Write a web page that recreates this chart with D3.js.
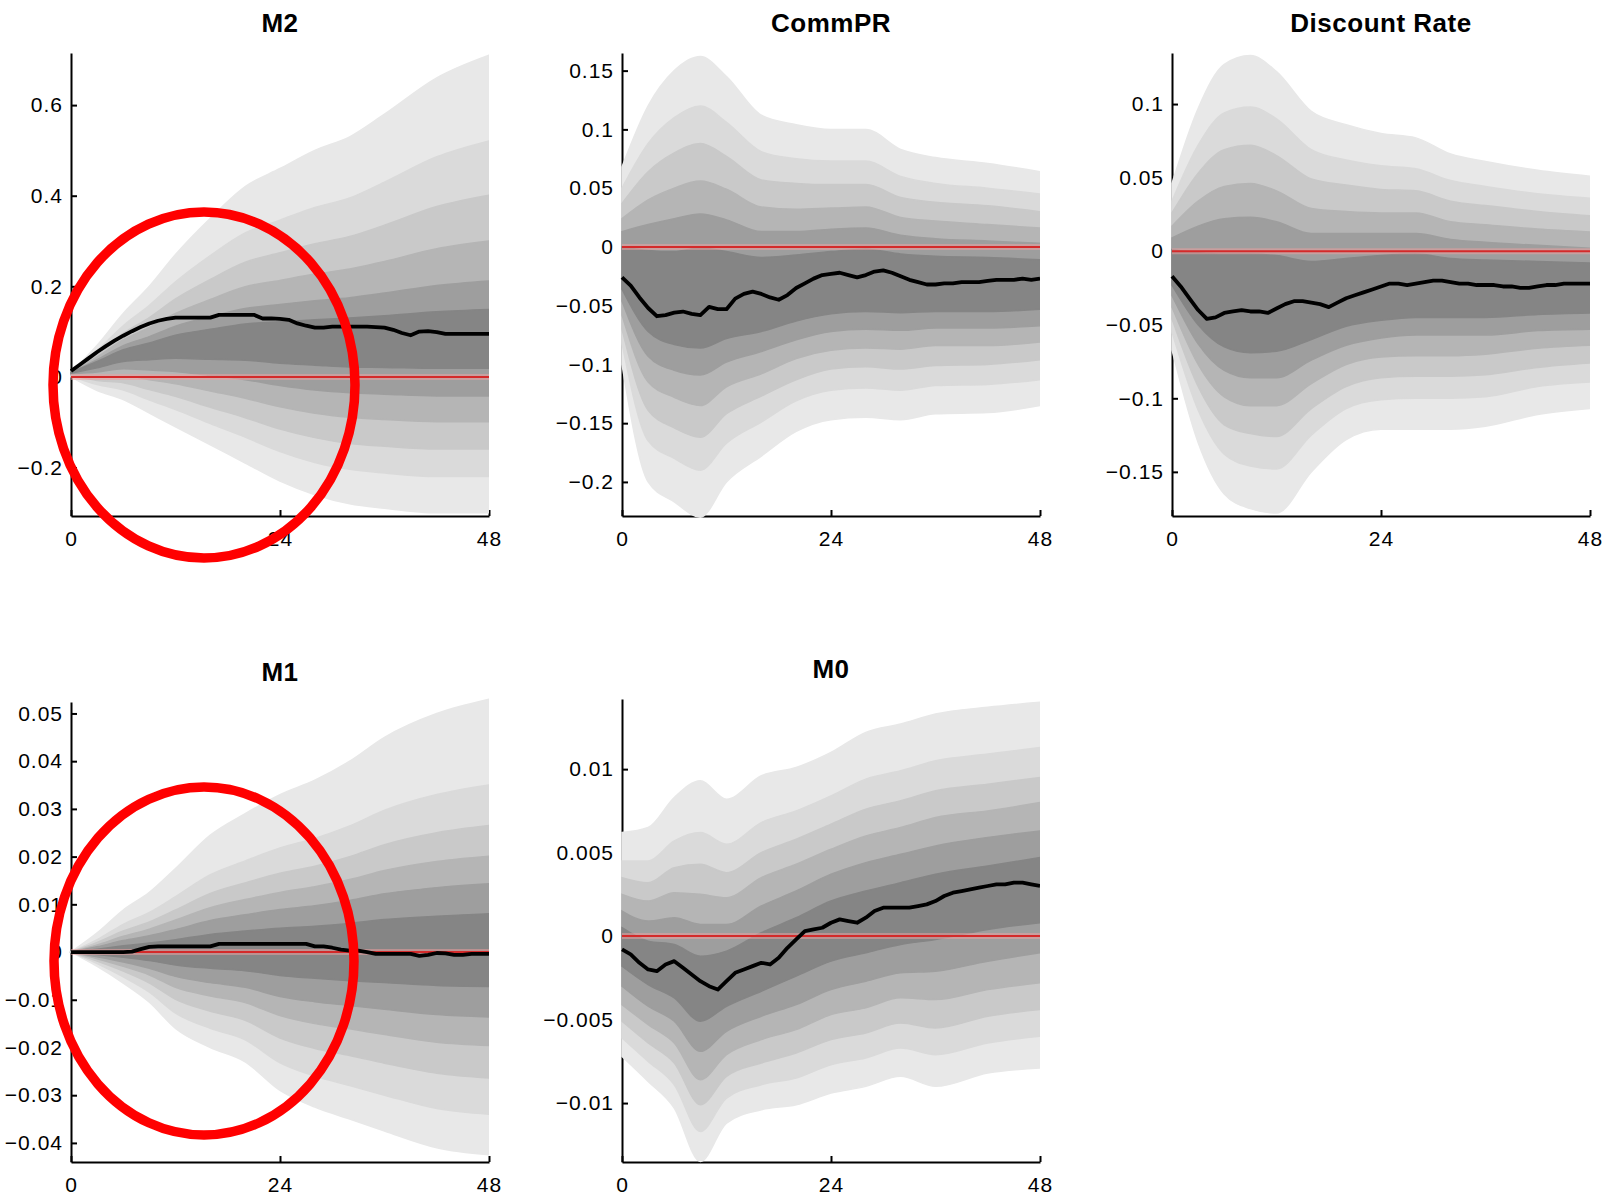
<!DOCTYPE html>
<html>
<head>
<meta charset="utf-8">
<script src="https://cdn.jsdelivr.net/npm/d3@7"></script>
<style>
  body { margin: 0; background: #fff; }
  text { font-family: "Liberation Sans", Arial, sans-serif; }
</style>
</head>
<body>
<svg id="chart" width="1612" height="1197"></svg>
<script>
// horizons (months)
const months = d3.range(0, 49);
const bandMonths = [0, 3, 6, 9, 12, 16, 20, 24, 28, 32, 36, 42, 48];
const xTicks = [0, 24, 48];

// ---- M2 ----
const m2Ticks = [-0.2, 0, 0.2, 0.4, 0.6];
const m2Median = [0.013,0.027,0.041,0.055,0.068,0.080,0.091,0.101,0.110,0.118,0.124,0.128,0.131,0.131,0.131,0.131,0.131,
  0.137,0.137,0.137,0.137,0.137,0.129,0.129,0.128,0.126,0.118,0.113,0.109,0.109,0.111,0.111,0.111,0.111,0.111,0.110,
  0.109,0.104,0.097,0.092,0.100,0.101,0.099,0.095,0.095,0.095,0.095,0.095,0.095];
const m2Upper = [
  [0.01,0.07,0.14,0.20,0.27,0.35,0.42,0.46,0.50,0.53,0.58,0.66,0.71],
  [0.01,0.058,0.113,0.158,0.21,0.268,0.318,0.346,0.374,0.395,0.43,0.486,0.521],
  [0.01,0.05,0.096,0.131,0.172,0.215,0.253,0.274,0.294,0.31,0.335,0.376,0.401],
  [0.01,0.044,0.082,0.109,0.14,0.171,0.199,0.213,0.227,0.238,0.255,0.283,0.30],
  [0.01,0.038,0.069,0.089,0.112,0.133,0.151,0.16,0.168,0.175,0.185,0.202,0.212],
  [0.01,0.034,0.06,0.075,0.092,0.105,0.117,0.122,0.126,0.13,0.135,0.144,0.149]
];
const m2Lower = [
  [0.0,-0.03,-0.05,-0.08,-0.11,-0.15,-0.19,-0.23,-0.26,-0.28,-0.29,-0.30,-0.30],
  [0.002,-0.017,-0.029,-0.051,-0.072,-0.103,-0.133,-0.165,-0.189,-0.204,-0.212,-0.22,-0.22],
  [0.004,-0.008,-0.013,-0.028,-0.043,-0.067,-0.09,-0.115,-0.134,-0.147,-0.153,-0.159,-0.159],
  [0.005,0.002,0.003,-0.006,-0.015,-0.031,-0.047,-0.066,-0.08,-0.089,-0.094,-0.099,-0.099],
  [0.007,0.011,0.018,0.015,0.012,0.003,-0.006,-0.019,-0.029,-0.035,-0.038,-0.042,-0.042],
  [0.008,0.02,0.034,0.038,0.041,0.039,0.037,0.03,0.026,0.022,0.021,0.019,0.019]
];

// ---- CommPR ----
const cpTicks = [-0.2, -0.15, -0.1, -0.05, 0, 0.05, 0.1, 0.15];
const cpMedian = [-0.026,-0.033,-0.043,-0.052,-0.059,-0.058,-0.056,-0.055,-0.057,-0.058,-0.051,-0.053,-0.053,-0.044,
  -0.040,-0.038,-0.040,-0.043,-0.045,-0.041,-0.035,-0.031,-0.027,-0.024,-0.023,-0.022,-0.024,-0.026,-0.024,-0.021,
  -0.020,-0.022,-0.025,-0.028,-0.030,-0.032,-0.032,-0.031,-0.031,-0.030,-0.030,-0.030,-0.029,-0.028,-0.028,-0.028,
  -0.027,-0.028,-0.027];
const cpUpper = [
  [0.068,0.12,0.15,0.162,0.145,0.112,0.104,0.10,0.10,0.083,0.076,0.071,0.064],
  [0.050,0.088,0.110,0.120,0.106,0.081,0.075,0.073,0.073,0.060,0.054,0.050,0.045],
  [0.037,0.064,0.080,0.088,0.077,0.057,0.054,0.053,0.053,0.042,0.038,0.035,0.030],
  [0.024,0.040,0.050,0.056,0.049,0.034,0.032,0.033,0.034,0.025,0.022,0.019,0.016],
  [0.013,0.019,0.024,0.028,0.023,0.013,0.013,0.015,0.016,0.010,0.007,0.005,0.003],
  [0.0,-0.003,-0.004,-0.001,-0.004,-0.009,-0.007,-0.004,-0.002,-0.006,-0.008,-0.009,-0.011]
];
const cpLower = [
  [-0.10,-0.20,-0.217,-0.23,-0.20,-0.178,-0.157,-0.147,-0.145,-0.147,-0.142,-0.141,-0.135],
  [-0.082,-0.165,-0.18,-0.19,-0.167,-0.149,-0.131,-0.122,-0.12,-0.122,-0.118,-0.117,-0.113],
  [-0.07,-0.139,-0.154,-0.162,-0.142,-0.127,-0.113,-0.104,-0.102,-0.104,-0.101,-0.1,-0.096],
  [-0.058,-0.115,-0.128,-0.135,-0.119,-0.108,-0.095,-0.088,-0.086,-0.087,-0.084,-0.084,-0.081],
  [-0.046,-0.093,-0.105,-0.109,-0.098,-0.089,-0.079,-0.072,-0.07,-0.071,-0.069,-0.069,-0.067],
  [-0.036,-0.072,-0.083,-0.086,-0.078,-0.072,-0.063,-0.057,-0.055,-0.056,-0.055,-0.055,-0.053]
];

// ---- Discount Rate ----
const drTicks = [-0.15, -0.1, -0.05, 0, 0.05, 0.1];
const drMedian = [-0.017,-0.024,-0.032,-0.040,-0.046,-0.045,-0.042,-0.041,-0.040,-0.041,-0.041,-0.042,-0.039,-0.036,
  -0.034,-0.034,-0.035,-0.036,-0.038,-0.035,-0.032,-0.030,-0.028,-0.026,-0.024,-0.022,-0.022,-0.023,-0.022,-0.021,
  -0.020,-0.020,-0.021,-0.022,-0.022,-0.023,-0.023,-0.023,-0.024,-0.024,-0.025,-0.025,-0.024,-0.023,-0.023,-0.022,
  -0.022,-0.022,-0.022];
const drUpper = [
  [0.046,0.097,0.127,0.133,0.122,0.095,0.086,0.08,0.077,0.066,0.061,0.055,0.051],
  [0.034,0.072,0.094,0.098,0.09,0.069,0.062,0.058,0.056,0.048,0.044,0.039,0.036],
  [0.026,0.053,0.069,0.072,0.065,0.049,0.045,0.042,0.041,0.034,0.031,0.027,0.024],
  [0.017,0.034,0.044,0.046,0.041,0.029,0.027,0.026,0.026,0.02,0.018,0.015,0.013],
  [0.009,0.017,0.022,0.023,0.02,0.012,0.012,0.012,0.012,0.008,0.006,0.004,0.002],
  [0.001,-0.001,-0.002,-0.002,-0.003,-0.007,-0.005,-0.003,-0.002,-0.005,-0.006,-0.007,-0.008]
];
const drLower = [
  [-0.067,-0.13,-0.165,-0.175,-0.178,-0.15,-0.128,-0.121,-0.121,-0.121,-0.119,-0.111,-0.107],
  [-0.055,-0.108,-0.138,-0.146,-0.148,-0.125,-0.107,-0.101,-0.1,-0.1,-0.099,-0.092,-0.089],
  [-0.046,-0.092,-0.118,-0.124,-0.126,-0.107,-0.092,-0.086,-0.085,-0.085,-0.084,-0.079,-0.076],
  [-0.038,-0.077,-0.099,-0.105,-0.105,-0.09,-0.077,-0.072,-0.071,-0.071,-0.07,-0.066,-0.064],
  [-0.03,-0.063,-0.081,-0.086,-0.086,-0.074,-0.064,-0.059,-0.057,-0.057,-0.057,-0.054,-0.053],
  [-0.023,-0.05,-0.065,-0.069,-0.068,-0.06,-0.051,-0.047,-0.045,-0.045,-0.045,-0.043,-0.042]
];

// ---- M1 ----
const m1Ticks = [-0.04, -0.03, -0.02, -0.01, 0, 0.01, 0.02, 0.03, 0.04, 0.05];
const m1Median = [0,0,0,0,0,0,0,0.0001,0.0006,0.0011,0.0012,0.0012,0.0012,0.0012,0.0012,0.0012,0.0012,
  0.0017,0.0017,0.0017,0.0017,0.0017,0.0017,0.0017,0.0017,0.0017,0.0017,0.0017,0.0012,0.0012,0.0009,0.0005,
  0.0003,0.0003,0.0,-0.0004,-0.0004,-0.0004,-0.0004,-0.0004,-0.0008,-0.0006,-0.0002,-0.0003,-0.0006,-0.0006,
  -0.0004,-0.0004,-0.0004];
const m1Upper = [
  [0.0,0.004,0.0088,0.0125,0.0175,0.0245,0.029,0.033,0.036,0.040,0.045,0.050,0.053],
  [0,0.0026,0.0058,0.0083,0.0116,0.0162,0.0191,0.0218,0.0238,0.0264,0.0297,0.033,0.035],
  [0,0.002,0.0044,0.0063,0.0088,0.0123,0.0145,0.0165,0.018,0.020,0.0225,0.025,0.0265],
  [0,0.0015,0.0033,0.0048,0.0067,0.0093,0.011,0.0125,0.0137,0.0152,0.0171,0.019,0.0201],
  [0,0.0011,0.0024,0.0034,0.0047,0.0066,0.0078,0.0089,0.0097,0.0108,0.0122,0.0135,0.0143],
  [0,0.0006,0.0013,0.0019,0.0026,0.0037,0.0044,0.005,0.0054,0.006,0.0068,0.0075,0.008]
];
const m1Lower = [
  [0.0,-0.003,-0.0065,-0.0105,-0.016,-0.020,-0.023,-0.029,-0.0325,-0.035,-0.0375,-0.041,-0.0425],
  [0,-0.0024,-0.0052,-0.0084,-0.0128,-0.016,-0.0184,-0.0232,-0.026,-0.028,-0.03,-0.0328,-0.034],
  [0,-0.0019,-0.004,-0.0065,-0.0099,-0.0124,-0.0143,-0.018,-0.0202,-0.0217,-0.0233,-0.0254,-0.0264],
  [0,-0.0014,-0.003,-0.0048,-0.0074,-0.0092,-0.0106,-0.0133,-0.015,-0.0161,-0.0173,-0.0189,-0.0196],
  [0,-0.001,-0.0021,-0.0034,-0.0051,-0.0064,-0.0074,-0.0093,-0.0104,-0.0112,-0.012,-0.0131,-0.0136],
  [0,-0.0005,-0.0011,-0.0018,-0.0027,-0.0034,-0.0039,-0.0049,-0.0055,-0.006,-0.0064,-0.007,-0.0072]
];

// ---- M0 ----
const m0Ticks = [-0.01, -0.005, 0, 0.005, 0.01];
const m0Median = [-0.0008,-0.0011,-0.0016,-0.0020,-0.0021,-0.0017,-0.0015,-0.0019,-0.0023,-0.0027,-0.0030,-0.0032,
  -0.0027,-0.0022,-0.0020,-0.0018,-0.0016,-0.0017,-0.0013,-0.0007,-0.0002,0.0003,0.0004,0.0005,0.0008,0.0010,
  0.0009,0.0008,0.0011,0.0015,0.0017,0.0017,0.0017,0.0017,0.0018,0.0019,0.0021,0.0024,0.0026,0.0027,0.0028,
  0.0029,0.0030,0.0031,0.0031,0.0032,0.0032,0.0031,0.0030];
const m0Upper = [
  [0.0062,0.0065,0.0083,0.0093,0.0082,0.0096,0.0101,0.011,0.0122,0.0127,0.0133,0.0137,0.014],
  [0.0045,0.0045,0.0057,0.0062,0.0055,0.0068,0.0075,0.0084,0.0094,0.0099,0.0105,0.0109,0.0113],
  [0.0035,0.0032,0.0041,0.0043,0.0038,0.005,0.0058,0.0067,0.0076,0.0081,0.0087,0.0091,0.0095],
  [0.0025,0.0021,0.0026,0.0025,0.0023,0.0035,0.0043,0.0052,0.006,0.0065,0.0071,0.0075,0.008],
  [0.0015,0.0009,0.0011,0.0007,0.0007,0.0018,0.0027,0.0037,0.0044,0.0049,0.0054,0.0059,0.0063],
  [0.0005,-0.0003,-0.0005,-0.0012,-0.0009,0.0002,0.0011,0.0021,0.0027,0.0032,0.0037,0.0042,0.0047]
];
const m0Lower = [
  [-0.0072,-0.0087,-0.0103,-0.0135,-0.0112,-0.0104,-0.0101,-0.0094,-0.009,-0.0084,-0.009,-0.0082,-0.0079],
  [-0.0061,-0.0075,-0.0089,-0.0117,-0.0097,-0.0089,-0.0085,-0.0077,-0.0073,-0.0067,-0.0071,-0.0064,-0.006],
  [-0.0051,-0.0064,-0.0076,-0.0101,-0.0084,-0.0076,-0.007,-0.0062,-0.0058,-0.0052,-0.0055,-0.0048,-0.0044],
  [-0.0041,-0.0053,-0.0064,-0.0086,-0.0071,-0.0062,-0.0056,-0.0047,-0.0043,-0.0037,-0.0038,-0.0032,-0.0028],
  [-0.003,-0.0042,-0.0051,-0.0069,-0.0057,-0.0048,-0.0041,-0.0032,-0.0027,-0.0022,-0.0021,-0.0015,-0.001],
  [-0.0018,-0.0029,-0.0037,-0.0051,-0.0042,-0.0033,-0.0024,-0.0015,-0.001,-0.0005,-0.0002,0.0004,0.0008]
];

// outermost band first
const bandColors = ["#e8e8e8", "#dadada", "#c9c9c9", "#b5b5b5", "#9e9e9e", "#858585"];

const panels = [
  {title: "M2", left: 71, right: 489, top: 53, bottom: 516, domain: [-0.307, 0.715],
   ticks: m2Ticks, median: m2Median, upper: m2Upper, lower: m2Lower},
  {title: "CommPR", left: 622, right: 1040, top: 53, bottom: 516, domain: [-0.229, 0.165],
   ticks: cpTicks, median: cpMedian, upper: cpUpper, lower: cpLower},
  {title: "Discount Rate", left: 1172, right: 1590, top: 53, bottom: 516, domain: [-0.180, 0.1347],
   ticks: drTicks, median: drMedian, upper: drUpper, lower: drLower},
  {title: "M1", left: 71, right: 489, top: 702, bottom: 1162, domain: [-0.044, 0.0524],
   ticks: m1Ticks, median: m1Median, upper: m1Upper, lower: m1Lower},
  {title: "M0", left: 622, right: 1040, top: 699, bottom: 1162, domain: [-0.01353, 0.0142],
   ticks: m0Ticks, median: m0Median, upper: m0Upper, lower: m0Lower}
];

const svg = d3.select("#chart");
svg.append("rect").attr("width", 1612).attr("height", 1197).attr("fill", "#fff");
const fmt = d3.format("~g");

panels.forEach(function(p, pi) {
  let x = d3.scaleLinear().domain([0, 48]).range([p.left, p.right]);
  let y = d3.scaleLinear().domain(p.domain).range([p.bottom, p.top]);
  let g = svg.append("g");

  // title
  g.append("text")
    .attr("x", (p.left + p.right) / 2)
    .attr("y", p.top - 21)
    .attr("text-anchor", "middle")
    .style("font-size", "26px")
    .style("font-weight", "bold")
    .style("letter-spacing", "0.5px")
    .text(p.title);

  // axes first, the fan covers them like in the original
  let yAxis = g.append("g")
    .attr("transform", `translate(${p.left},0)`)
    .call(d3.axisLeft(y).tickValues(p.ticks).tickFormat(fmt).tickSize(-6).tickSizeOuter(0).tickPadding(8));
  let xAxis = g.append("g")
    .attr("transform", `translate(0,${p.bottom})`)
    .call(d3.axisBottom(x).tickValues(xTicks).tickSize(-6).tickSizeOuter(0).tickPadding(15));
  [yAxis, xAxis].forEach(function(a) {
    a.attr("font-family", null).attr("font-size", null);
    a.select(".domain").attr("stroke", "#000").attr("stroke-width", 2);
    a.selectAll(".tick line").attr("stroke", "#000").attr("stroke-width", 2);
    a.selectAll(".tick text").style("font-size", "21px").style("letter-spacing", "1px").attr("fill", "#000");
  });

  // clip
  let clipId = "clip" + pi;
  svg.append("clipPath").attr("id", clipId)
    .append("rect")
    .attr("x", p.left - 2).attr("y", p.top - 10)
    .attr("width", p.right - p.left + 2).attr("height", p.bottom - p.top + 12);
  let plot = g.append("g").attr("clip-path", `url(#${clipId})`);

  // fan bands
  for (let k = 0; k < p.upper.length; k++) {
    let area = d3.area()
      .x((d, i) => x(bandMonths[i]))
      .y0((d, i) => y(p.lower[k][i]))
      .y1((d, i) => y(p.upper[k][i]))
      .curve(d3.curveMonotoneX);
    plot.append("path")
      .attr("d", area(p.upper[k]))
      .attr("fill", bandColors[k])
      .attr("stroke", bandColors[k])
      .attr("stroke-width", 1.5);
  }

  // zero line
  plot.append("line")
    .attr("x1", p.left).attr("x2", p.right)
    .attr("y1", y(0)).attr("y2", y(0))
    .attr("stroke", "#f2a0a0").attr("stroke-opacity", 0.5).attr("stroke-width", 6);
  plot.append("line")
    .attr("x1", p.left).attr("x2", p.right)
    .attr("y1", y(0)).attr("y2", y(0))
    .attr("stroke", "#d42a2a").attr("stroke-width", 2);

  // median response
  let line = d3.line()
    .x((d, i) => x(months[i]))
    .y(d => y(d));
  plot.append("path")
    .attr("d", line(p.median))
    .attr("fill", "none")
    .attr("stroke", "#000")
    .attr("stroke-width", 3.8)
    .attr("stroke-linejoin", "round");
});

// red annotation ellipses over the M2 and M1 panels
svg.append("ellipse")
  .attr("cx", 204).attr("cy", 385).attr("rx", 151).attr("ry", 173)
  .attr("fill", "none").attr("stroke", "#ff0000").attr("stroke-width", 9.5);
svg.append("ellipse")
  .attr("cx", 204).attr("cy", 961).attr("rx", 150).attr("ry", 174)
  .attr("fill", "none").attr("stroke", "#ff0000").attr("stroke-width", 9.5);
</script>
</body>
</html>
